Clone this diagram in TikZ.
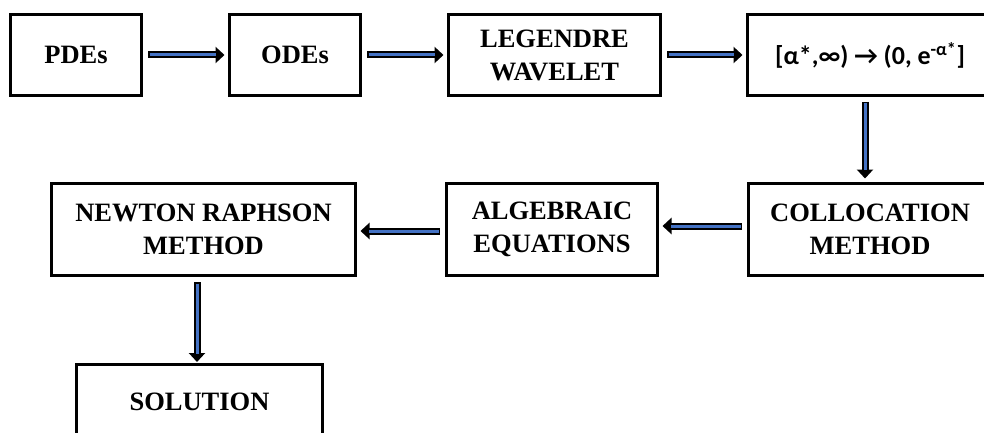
\documentclass[tikz,border=0pt]{standalone}
\usepackage{fontspec}
\setmainfont{Liberation Serif}
\newfontfamily\calfont{Carlito}
\usetikzlibrary{arrows.meta}
\definecolor{arrowblue}{RGB}{68,114,196}
\tikzset{
  box/.style={draw, line width=3pt, align=center, inner sep=0pt,
    font=\bfseries\fontsize{26.5}{33}\selectfont},
  blk/.style={line width=7pt, draw=black, -{Triangle[length=9pt,width=16pt]},
    shorten <=5pt, shorten >=3.5pt,
    postaction={draw=arrowblue, line width=3pt, -, shorten <=6.5pt, shorten >=12pt}}
}
\begin{document}
\begin{tikzpicture}[x=1pt,y=-1pt]
\useasboundingbox (0,0) rectangle (984,433);
\clip (0,0) rectangle (984,433);
\node[box, minimum width=131pt, minimum height=81pt] (pde) at (76,55) {PDEs};
\node[box, minimum width=131pt, minimum height=81pt] (ode) at (295,55) {ODEs};
\node[box, minimum width=212pt, minimum height=81pt] (leg) at (554.5,55) {LEGENDRE\\WAVELET};
\node[box, minimum width=245pt, minimum height=81pt, font=\calfont\bfseries\fontsize{26}{31}\selectfont] (rng) at (870,55)
  {[α*,∞) → (0, e\textsuperscript{-α*}]};
\node[box, minimum width=243pt, minimum height=92pt] (col) at (870,229.5) {COLLOCATION\\METHOD};
\node[box, minimum width=211pt, minimum height=92pt] (alg) at (552,229.5) {ALGEBRAIC\\EQUATIONS};
\node[box, minimum width=304pt, minimum height=92pt] (nr) at (203.5,229.5) {NEWTON RAPHSON\\METHOD};
\node[box, minimum width=246pt, minimum height=76pt] (sol) at (199.5,402) {SOLUTION};
\draw[blk] (pde.east) -- (ode.west);
\draw[blk] (ode.east) -- (leg.west);
\draw[blk] (leg.east) -- (rng.west);
\draw[blk] ([xshift=-5pt]rng.south) -- ([xshift=-5pt]col.north);
\draw[blk] ([yshift=3.5pt]col.west) -- ([yshift=3.5pt]alg.east);
\draw[blk] ([yshift=-1.5pt]alg.west) -- ([yshift=-1.5pt]nr.east);
\draw[blk] ([xshift=-6.5pt]nr.south) -- ([xshift=-2.5pt,yshift=-3pt]sol.north);
\end{tikzpicture}
\end{document}
